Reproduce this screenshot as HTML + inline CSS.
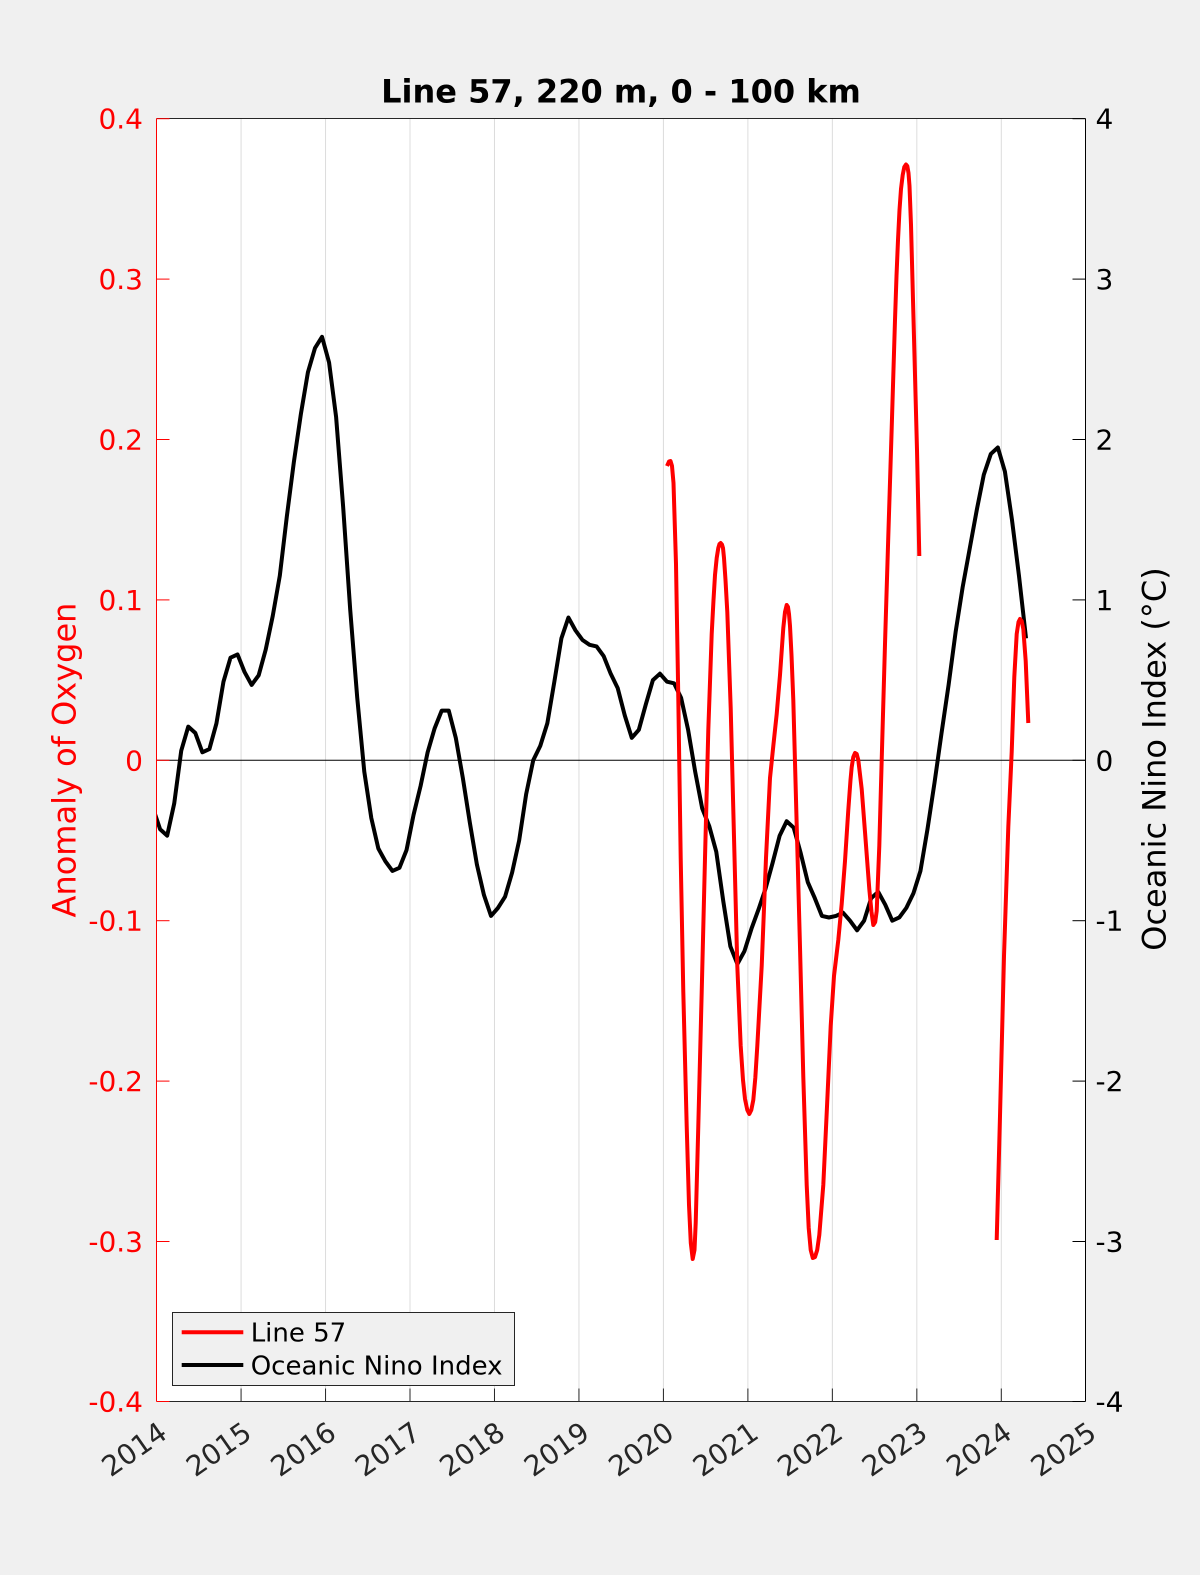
<!DOCTYPE html>
<html>
<head>
<meta charset="utf-8">
<style>
  html, body { margin: 0; padding: 0; background: #f0f0f0; }
  svg { display: block; }
  text { font-family: "DejaVu Sans", "Liberation Sans", sans-serif; }
</style>
</head>
<body>
<svg width="1200" height="1575" viewBox="0 0 1200 1575" xmlns="http://www.w3.org/2000/svg">
  <defs>
    <clipPath id="plot">
      <rect x="156.5" y="118.5" width="929" height="1283"/>
    </clipPath>
  </defs>
  <rect x="0" y="0" width="1200" height="1575" fill="#f0f0f0"/>
  <rect x="156.5" y="118.5" width="929" height="1283" fill="#ffffff"/>

  <g stroke="#dcdcdc" stroke-width="1">
    <line x1="241.07" y1="118.5" x2="241.07" y2="1401.5"/>
    <line x1="325.54" y1="118.5" x2="325.54" y2="1401.5"/>
    <line x1="410.01" y1="118.5" x2="410.01" y2="1401.5"/>
    <line x1="494.48" y1="118.5" x2="494.48" y2="1401.5"/>
    <line x1="578.95" y1="118.5" x2="578.95" y2="1401.5"/>
    <line x1="663.42" y1="118.5" x2="663.42" y2="1401.5"/>
    <line x1="747.89" y1="118.5" x2="747.89" y2="1401.5"/>
    <line x1="832.36" y1="118.5" x2="832.36" y2="1401.5"/>
    <line x1="916.83" y1="118.5" x2="916.83" y2="1401.5"/>
    <line x1="1001.3" y1="118.5" x2="1001.3" y2="1401.5"/>
  </g>

  <line x1="156.5" y1="760.3" x2="1085.5" y2="760.3" stroke="#000" stroke-width="1"/>

  <g clip-path="url(#plot)" fill="none" stroke-linejoin="round">
    <polyline stroke="#000" stroke-width="4" points="
      153.08,808.4 160.12,829.27 167.16,835.69 174.20,803.61 181.24,750.68 188.28,726.62 195.32,733.03 202.36,752.28 209.40,749.07 216.43,723.41 223.47,681.70 230.51,657.64 237.55,654.44
      244.59,672.08 251.63,684.91 258.67,675.29 265.71,649.62 272.75,615.94 279.79,575.84 286.83,516.49 293.87,461.96 300.91,413.84 307.95,372.13 314.99,348.07 322.03,336.84
      329.07,362.51 336.11,417.04 343.15,506.87 350.19,609.52 357.23,697.74 364.27,771.53 371.31,818.04 378.35,848.52 385.39,861.35 392.43,870.98 399.47,867.77 406.51,850.12
      413.55,814.84 420.59,785.96 427.63,752.28 434.67,728.22 441.71,710.58 448.75,710.58 455.79,737.84 462.83,777.94 469.87,822.86 476.91,864.56 483.95,895.04 490.99,915.89
      498.03,907.87 505.07,896.64 512.11,872.58 519.15,840.50 526.19,793.98 533.23,760.30 540.27,745.86 547.31,723.41 554.35,681.70 561.39,638.40 568.43,617.54 575.47,630.38
      582.51,640.00 589.55,644.81 596.59,646.42 603.63,656.04 610.67,673.68 617.71,688.12 624.75,715.39 631.79,737.84 638.83,729.82 645.87,704.16 652.91,680.10 659.95,673.68
      666.99,681.70 674.03,683.31 681.07,697.74 688.11,729.82 695.15,771.53 702.19,808.42 709.23,826.06 716.27,851.73 723.31,901.45 730.35,946.36 737.39,964.01 744.43,951.18
      751.47,928.72 758.51,909.47 765.55,888.62 772.59,862.96 779.63,835.69 786.67,821.25 793.71,827.67 800.75,853.33 807.79,882.20 814.83,898.24 821.87,915.89 828.91,917.49
      835.95,915.89 842.99,912.68 850.03,920.70 857.07,930.32 864.11,920.70 871.15,898.24 878.19,891.83 885.23,904.66 892.27,920.70 899.31,917.49 906.35,907.87 913.39,893.43
      920.43,870.98 927.47,829.27 934.51,782.76 941.55,733.03 948.59,684.91 955.63,631.98 962.67,587.07 969.71,548.57 976.75,510.08 983.79,474.79 990.83,453.94 997.87,447.52
      1004.91,471.58 1011.95,519.70 1018.99,575.84 1026.03,638.40"/>

    <polyline stroke="#ff0000" stroke-width="4" points="
      667.0,466 669.0,461.5 670.5,461 672,466 673.5,483 676,564 678.3,698 680.7,858 683.3,992 686.7,1126 689,1205 690.8,1243 692.7,1259 694.5,1250 695.7,1223
      698.3,1126 701.7,992 705,858 708.3,730 711.7,634 713.5,600 715,575 716.7,558 718.3,548 719.5,544 720.7,543 722,544.5 723,548 724,558 725.5,580 727.3,612 730.7,708 734,837 737.3,966 740.7,1046 743,1080 745,1099
      747.3,1110 749.3,1114 751.3,1110 753.3,1100 755.3,1078 757.3,1046 761.7,966 766,858 770,778 773.3,746 776.7,714 780,675 783.3,628 785,612 786.7,605 788,607 789,614 790,626 791.5,655 793.3,700 796.7,825 800,947
      803.3,1077 806.7,1185 808.7,1228 810.7,1250 812.8,1258 815,1257 817.2,1250 819.3,1235 823.3,1185 826.7,1113 830.7,1026 834,976 838.3,940 841.7,904 845,861 848.3,810 850.5,780 851.7,767 853.3,757 855,753 856.7,754 858.3,760 861.7,789 865,832 869.3,889 871.5,912 873.3,925 875.2,922 876.7,911 879.3,846 881.7,760 885,644 888.3,536 891.7,428 895,320
      896.5,276 898,240 899.5,210 901,189 902.7,175 904.3,167 906,164.5 907.3,166 908.5,173 909.5,186 911,225 913,300 915,375 917,450 919.3,556"/>
    <polyline stroke="#ff0000" stroke-width="4" points="
      996.7,1240 1000,1116 1004,956 1008.3,827 1011.7,752 1014.3,677 1016.7,634 1018.5,622 1020,619 1021.7,621 1023.3,629 1025.7,661 1028.3,723"/>
  </g>

  <g stroke-width="1" fill="none">
    <line x1="156.5" y1="118.5" x2="1085.5" y2="118.5" stroke="#262626"/>
    <line x1="156.5" y1="1401.5" x2="1085.5" y2="1401.5" stroke="#262626"/>
    <line x1="1085.5" y1="118.5" x2="1085.5" y2="1401.5" stroke="#000"/>
    <line x1="156.5" y1="118.5" x2="156.5" y2="1401.5" stroke="#ff0000"/>
  </g>

  <g stroke="#262626" stroke-width="1">
    <line x1="241.07" y1="1401.5" x2="241.07" y2="1388.5"/>
    <line x1="325.54" y1="1401.5" x2="325.54" y2="1388.5"/>
    <line x1="410.01" y1="1401.5" x2="410.01" y2="1388.5"/>
    <line x1="494.48" y1="1401.5" x2="494.48" y2="1388.5"/>
    <line x1="578.95" y1="1401.5" x2="578.95" y2="1388.5"/>
    <line x1="663.42" y1="1401.5" x2="663.42" y2="1388.5"/>
    <line x1="747.89" y1="1401.5" x2="747.89" y2="1388.5"/>
    <line x1="832.36" y1="1401.5" x2="832.36" y2="1388.5"/>
    <line x1="916.83" y1="1401.5" x2="916.83" y2="1388.5"/>
    <line x1="1001.3" y1="1401.5" x2="1001.3" y2="1388.5"/>
  </g>

  <g stroke="#000" stroke-width="1">
    <line x1="1072.5" y1="118.7" x2="1085.5" y2="118.7"/>
    <line x1="1072.5" y1="279.1" x2="1085.5" y2="279.1"/>
    <line x1="1072.5" y1="439.5" x2="1085.5" y2="439.5"/>
    <line x1="1072.5" y1="599.9" x2="1085.5" y2="599.9"/>
    <line x1="1072.5" y1="760.3" x2="1085.5" y2="760.3"/>
    <line x1="1072.5" y1="920.7" x2="1085.5" y2="920.7"/>
    <line x1="1072.5" y1="1081.1" x2="1085.5" y2="1081.1"/>
    <line x1="1072.5" y1="1241.5" x2="1085.5" y2="1241.5"/>
    <line x1="1072.5" y1="1401.5" x2="1085.5" y2="1401.5"/>
  </g>

  <g stroke="#ff0000" stroke-width="1">
    <line x1="156.5" y1="118.7" x2="169.5" y2="118.7"/>
    <line x1="156.5" y1="279.1" x2="169.5" y2="279.1"/>
    <line x1="156.5" y1="439.5" x2="169.5" y2="439.5"/>
    <line x1="156.5" y1="599.9" x2="169.5" y2="599.9"/>
    <line x1="156.5" y1="760.3" x2="169.5" y2="760.3"/>
    <line x1="156.5" y1="920.7" x2="169.5" y2="920.7"/>
    <line x1="156.5" y1="1081.1" x2="169.5" y2="1081.1"/>
    <line x1="156.5" y1="1241.5" x2="169.5" y2="1241.5"/>
    <line x1="156.5" y1="1401.5" x2="169.5" y2="1401.5"/>
  </g>

  <g fill="#ff0000" font-size="28" text-anchor="end">
    <text x="143" y="128.7">0.4</text>
    <text x="143" y="289.1">0.3</text>
    <text x="143" y="449.5">0.2</text>
    <text x="143" y="609.9">0.1</text>
    <text x="143" y="770.3">0</text>
    <text x="143" y="930.7">-0.1</text>
    <text x="143" y="1091.1">-0.2</text>
    <text x="143" y="1251.5">-0.3</text>
    <text x="143" y="1411.5">-0.4</text>
  </g>

  <g fill="#000" font-size="28" text-anchor="start">
    <text x="1095.5" y="128.7">4</text>
    <text x="1095.5" y="289.1">3</text>
    <text x="1095.5" y="449.5">2</text>
    <text x="1095.5" y="609.9">1</text>
    <text x="1095.5" y="770.3">0</text>
    <text x="1095.5" y="930.7">-1</text>
    <text x="1095.5" y="1091.1">-2</text>
    <text x="1095.5" y="1251.5">-3</text>
    <text x="1095.5" y="1411.5">-4</text>
  </g>

  <g fill="#262626" font-size="28" text-anchor="middle">
    <text x="134.1" y="1449" dy="10" transform="rotate(-35 134.1 1449)">2014</text>
    <text x="218.57" y="1449" dy="10" transform="rotate(-35 218.57 1449)">2015</text>
    <text x="303.04" y="1449" dy="10" transform="rotate(-35 303.04 1449)">2016</text>
    <text x="387.51" y="1449" dy="10" transform="rotate(-35 387.51 1449)">2017</text>
    <text x="471.98" y="1449" dy="10" transform="rotate(-35 471.98 1449)">2018</text>
    <text x="556.45" y="1449" dy="10" transform="rotate(-35 556.45 1449)">2019</text>
    <text x="640.92" y="1449" dy="10" transform="rotate(-35 640.92 1449)">2020</text>
    <text x="725.39" y="1449" dy="10" transform="rotate(-35 725.39 1449)">2021</text>
    <text x="809.86" y="1449" dy="10" transform="rotate(-35 809.86 1449)">2022</text>
    <text x="894.33" y="1449" dy="10" transform="rotate(-35 894.33 1449)">2023</text>
    <text x="978.8" y="1449" dy="10" transform="rotate(-35 978.8 1449)">2024</text>
    <text x="1063.27" y="1449" dy="10" transform="rotate(-35 1063.27 1449)">2025</text>
  </g>

  <text x="621" y="102.5" font-size="32" font-weight="bold" text-anchor="middle" fill="#000">Line 57, 220 m, 0 - 100 km</text>

  <text x="75.5" y="760" font-size="32" fill="#ff0000" text-anchor="middle" transform="rotate(-90 75.5 760)">Anomaly of Oxygen</text>
  <text x="1165.5" y="759" font-size="32" fill="#000" text-anchor="middle" transform="rotate(-90 1165.5 759)">Oceanic Nino Index (°C)</text>

  <rect x="172.5" y="1312.5" width="342" height="73" fill="#f0f0f0" stroke="#262626" stroke-width="1"/>
  <line x1="181.7" y1="1332.3" x2="243.3" y2="1332.3" stroke="#ff0000" stroke-width="4"/>
  <line x1="181.7" y1="1365" x2="243.3" y2="1365" stroke="#000" stroke-width="4"/>
  <text x="250.7" y="1341.7" font-size="26" fill="#000">Line 57</text>
  <text x="250.7" y="1374.5" font-size="26" fill="#000">Oceanic Nino Index</text>
</svg>
</body>
</html>
